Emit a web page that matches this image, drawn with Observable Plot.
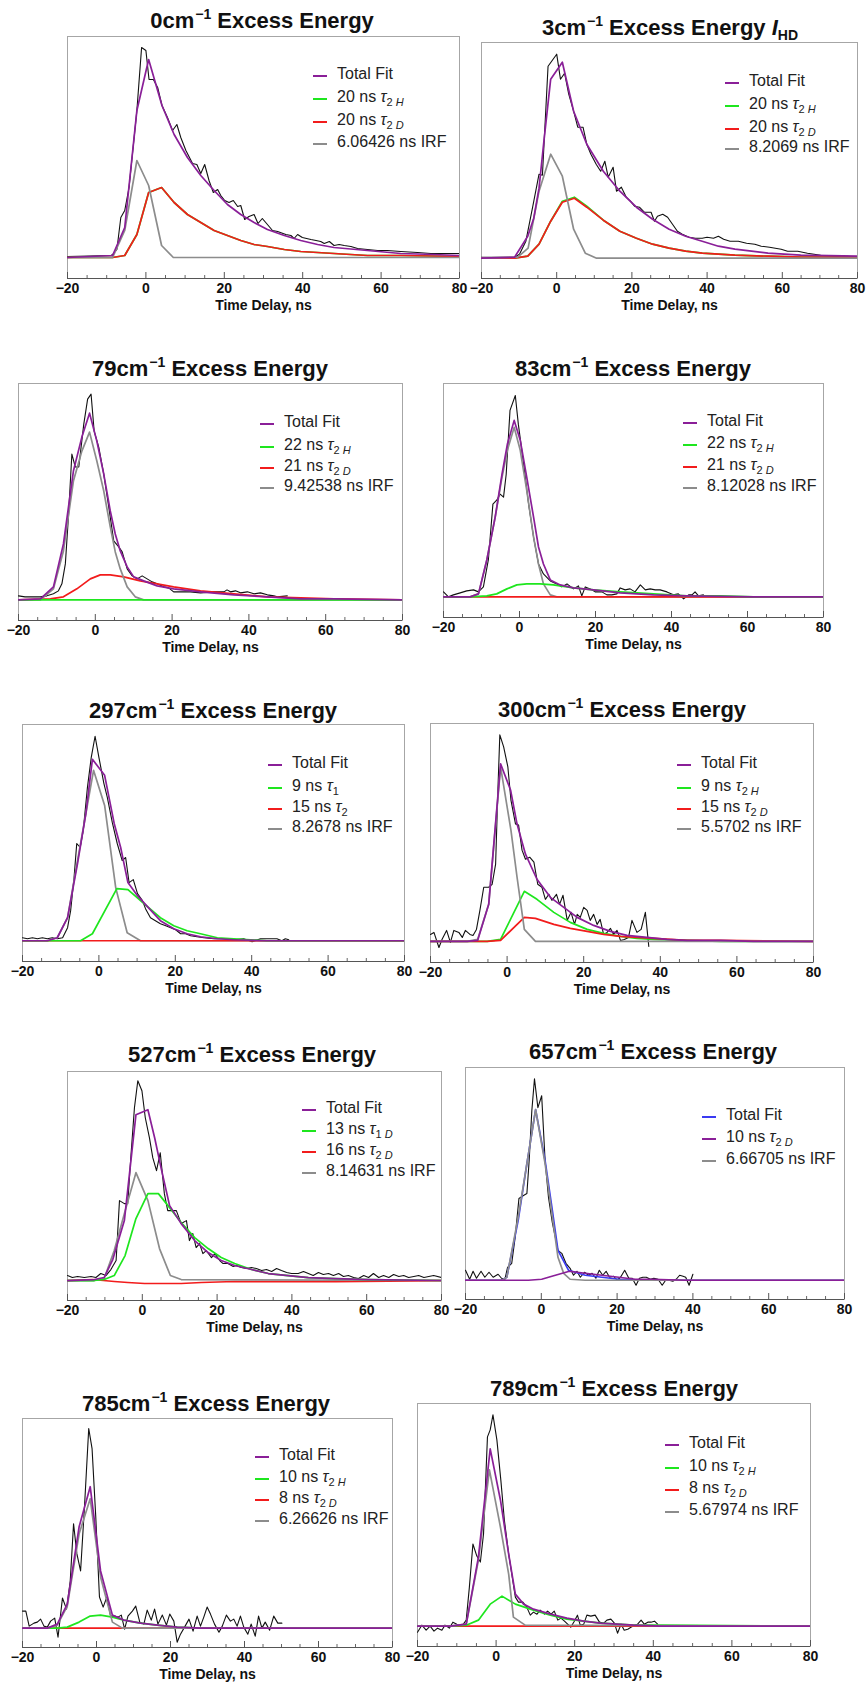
<!DOCTYPE html>
<html><head><meta charset="utf-8">
<script src="https://cdn.jsdelivr.net/npm/d3@7"></script>
<script src="https://cdn.jsdelivr.net/npm/@observablehq/plot@0.6"></script>
<style>
body{margin:0;background:#fff;}
#root{position:relative;width:867px;height:1688px;overflow:hidden;background:#fff;font-family:"Liberation Sans",Arial,sans-serif;}
.title{position:absolute;font-weight:bold;font-size:22px;line-height:22px;white-space:nowrap;transform:translateX(-50%);color:#111;}
.title .sup{font-size:14px;position:relative;top:-9px;margin-left:1px;}
.title .hd{font-size:14px;position:relative;top:5px;}
.lg{position:absolute;display:flex;align-items:center;height:20px;font-size:16px;line-height:20px;white-space:nowrap;color:#222;}
.sw{display:inline-block;width:14px;height:0;border-top:2px solid;margin-right:10px;position:relative;top:2px;}
.lg sub{font-size:11px;vertical-align:-4px;line-height:0;}
svg{position:absolute;}
</style>
</head><body><div id="root"></div>
<script>
// ---------- data (time in ns, intensity in arbitrary units) ----------
const energies = ["0","3","79","83","297","300","527","657","785","789"];
const xTicks = [-20,0,20,40,60,80];
const xMinor = [-15,-10,-5,5,10,15,25,30,35,45,50,55,65,70,75];

const p1Data=[[-20,1],[-8.9,2],[-8.5,3],[-7.4,8],[-6.4,40],[-5.4,47],[-4.3,70],[-2.3,147],[-1.1,210],[0,207],[0.8,178],[1.9,178],[3.0,170],[4.1,152],[5.5,140],[6.8,127],[7.9,133],[8.9,120],[10.2,107],[11.9,94],[13.0,93],[14.0,84],[15.0,93],[16.1,77],[17.2,65],[18.3,68],[19.1,62],[20.1,57],[21.2,55],[22.3,57],[23.4,51],[24.2,52],[25.2,38],[26.3,41],[27.6,43],[28.6,34],[29.7,39],[31.0,33],[32.3,27],[33.6,26],[35.7,23],[37.0,22],[37.8,19],[38.7,23],[39.9,20],[42.1,18],[43.4,17],[44.6,16],[45.5,14],[46.8,16],[48.0,12],[49.3,13],[50.6,12],[52.3,11],[54.0,9],[56.5,8],[59.1,7],[61.6,7],[65.0,6],[69.3,5],[72.7,4],[75.2,4],[80,4]];
const p1Fit=[[-20,0],[-8.5,2],[-5.4,30],[-2.3,147],[0.7,198],[4.1,152],[7.2,123],[10.6,100],[14.0,82],[17.4,67],[20.8,53],[24.2,43],[27.6,35],[31.0,28],[35.3,22],[39.5,17],[43.8,13],[48.0,10],[56.5,7],[65.0,4],[73.5,3],[80,2]];
const p1Green=[[-20,0],[-8.5,0],[-5.4,2],[-2.3,23],[0.7,65],[4.0,70],[7.2,55],[10.6,43],[14.0,35],[17.4,27],[20.8,22],[24.2,17],[27.6,13],[31.0,11],[35.3,8],[39.5,6],[48.0,4],[56.5,2],[65.0,2],[80,1]];
const p1Red=[[-20,0],[-8.5,0],[-5.4,2],[-2.3,23],[0.7,65],[4.0,70],[7.2,55],[10.6,43],[14.0,35],[17.4,27],[20.8,22],[24.2,17],[27.6,13],[31.0,11],[35.3,8],[39.5,6],[48.0,4],[56.5,2],[65.0,2],[80,1]];
const p1Irf=[[-20,0],[-8.5,0],[-5.4,27],[-2.3,97],[0.7,72],[4.0,12],[7.0,0],[80,0]];

const p2Data=[[-20,1],[-15.6,1],[-11.2,1],[-9.9,4],[-8.2,17],[-6.4,51],[-4.7,84],[-3.8,83],[-2.3,192],[0,204],[1.0,179],[2.1,185],[3.2,164],[4.5,147],[5.6,131],[7.0,131],[8.0,114],[9.1,104],[10.5,94],[11.7,87],[12.8,97],[13.7,81],[15.0,91],[15.9,67],[17.2,71],[18.5,61],[19.6,57],[20.7,52],[22.0,51],[23.3,46],[25.1,46],[26.0,37],[26.8,42],[28.2,44],[29.5,41],[30.8,34],[32.1,27],[33.4,24],[35.2,21],[36.9,20],[38.7,20],[40.0,21],[41.7,20],[43.0,22],[44.4,19],[46.1,17],[48.3,17],[50.5,15],[52.7,14],[54.4,12],[56.6,11],[59.7,9],[61.4,7],[64.1,7],[66.7,5],[70.2,3],[73.7,2],[77.2,2],[80,1]];
const p2Fit=[[-20,0],[-11.2,1],[-7.7,22],[-6.1,40],[-4.7,70],[-3.4,117],[-1.6,179],[1.5,196],[4.5,147],[8.0,114],[12.4,87],[16.8,67],[21.2,51],[25.5,39],[29.9,29],[34.3,22],[38.7,17],[43.0,12],[47.4,9],[56.2,5],[64.9,3],[80,2]];
const p2Green=[[-20,0],[-11.2,0],[-7.7,2],[-4.7,14],[-1.6,37],[1.5,57],[4.7,61],[8.0,52],[12.4,38],[16.8,27],[21.2,20],[25.5,14],[29.9,10],[34.3,7],[38.7,5],[47.4,3],[56.2,2],[64.9,1],[80,1]];
const p2Red=[[-20,0],[-11.2,0],[-7.7,2],[-4.7,14],[-1.6,37],[1.5,56],[4.7,60],[8.0,51],[12.4,38],[16.8,27],[21.2,20],[25.5,14],[29.9,10],[34.3,7],[38.7,5],[47.4,3],[56.2,2],[64.9,1],[80,1]];
const p2Irf=[[-20,0],[-10.4,1],[-7.6,10],[-4.7,67],[-1.6,104],[1.5,82],[4.5,29],[7.6,5],[10.6,0],[80,0]];

const p3Data=[[-20,4],[-18.3,3],[-16.1,3],[-14.3,3],[-12.6,4],[-10.9,6],[-9.6,9],[-8.7,16],[-7.8,36],[-7.0,83],[-6.1,146],[-5.2,133],[-4.3,133],[-3.0,176],[-2.0,201],[-1.1,206],[-0.3,169],[0.9,153],[2.2,126],[3.5,93],[4.8,59],[6.1,53],[7.0,48],[8.3,31],[9.6,24],[10.9,21],[12.2,24],[13.5,21],[14.8,18],[16.1,16],[17.8,13],[19.1,12],[20.4,8],[22.2,8],[24.8,8],[27.4,7],[30.9,8],[33.5,8],[34.3,10],[35.2,8],[36.5,9],[37.8,7],[39.6,8],[41.3,6],[43.0,7],[44.8,5],[46.5,4],[47.4,3],[50.0,4]];
const p3Fit=[[-20,0],[-14.3,1],[-10.9,13],[-8.3,56],[-5.7,129],[-3.5,163],[-1.5,187],[0.4,159],[2.2,126],[3.9,89],[5.2,66],[6.5,49],[8.3,33],[10.0,23],[12.6,19],[16.1,14],[20.4,11],[27.4,8],[36.1,5],[44.8,3],[53.5,1],[62.2,1],[80,0]];
const p3Green=[[-20,0],[80,0]];
const p3Red=[[-20,0],[-11.7,1],[-8.3,3],[-4.8,11],[-1.3,21],[1.3,25],[3.9,25],[7.4,23],[11.7,19],[16.1,16],[20.4,13],[27.4,9],[36.1,6],[44.8,3],[53.5,2],[62.2,1],[80,0]];
const p3Irf=[[-20,0],[-14.3,0],[-10.9,11],[-8.3,49],[-5.7,119],[-3.5,149],[-1.5,168],[0.4,139],[2.2,109],[3.9,73],[5.2,48],[6.5,31],[8.3,13],[10.4,3],[12.6,0],[80,0]];

const p4Data=[[-20,5],[-18.7,0],[-17.4,2],[-15.6,4],[-13.9,6],[-12.1,7],[-10.8,5],[-9.5,10],[-8.2,37],[-7.0,93],[-6.0,97],[-5.1,103],[-4.2,100],[-3.5,123],[-2.5,187],[-1.1,202],[-0.3,173],[1.1,133],[2.4,93],[3.7,60],[5.0,33],[6.3,23],[8.1,16],[9.8,13],[11.1,10],[12.5,13],[14.2,8],[15.5,11],[16.4,1],[17.3,10],[18.6,8],[19.9,5],[21.7,5],[23.0,2],[24.3,2],[25.6,3],[26.5,9],[27.8,7],[29.1,8],[30.4,5],[31.8,12],[33.1,7],[34.4,8],[35.7,7],[37.0,7],[38.8,5],[40.5,2],[41.8,3],[43.2,-2],[44.5,2],[45.4,2],[46.2,5],[47.1,1],[48.4,2]];
const p4Fit=[[-20,0],[-13.0,0],[-10.8,3],[-8.6,37],[-6.4,80],[-4.6,123],[-3.2,153],[-1.4,177],[0.2,157],[1.9,120],[3.7,80],[5.0,50],[6.3,33],[8.1,17],[10.7,12],[14.2,9],[19.5,7],[26.5,4],[35.3,2],[44.0,1],[61.6,0],[80,0]];
const p4Green=[[-20,0],[-13.0,0],[-8.6,1],[-6.0,3],[-3.3,8],[-0.7,12],[1.9,13],[5.4,13],[8.9,12],[14.2,9],[19.5,7],[26.5,5],[35.3,3],[44.0,1],[52.8,1],[61.6,0],[80,0]];
const p4Red=[[-20,0],[80,0]];
const p4Irf=[[-20,0],[-13.0,0],[-10.8,3],[-8.6,37],[-6.4,80],[-4.6,120],[-3.2,147],[-1.4,170],[0.2,147],[1.9,107],[3.7,60],[5.0,33],[6.3,13],[8.1,2],[9.8,0],[80,0]];

const p5Data=[[-20,3],[-18.7,2],[-17.4,3],[-16.1,2],[-14.8,3],[-13.5,2],[-12.2,3],[-10.9,2],[-9.5,3],[-8.2,13],[-7.4,30],[-6.5,63],[-5.8,97],[-4.9,93],[-4.1,110],[-3.0,153],[-2.0,183],[-1.0,204],[0,183],[1.3,157],[2.2,143],[3.5,118],[4.8,97],[6.1,80],[7.0,83],[7.9,58],[9.0,61],[10.1,47],[11.4,40],[12.2,32],[13.5,23],[14.8,20],[16.1,17],[17.5,15],[18.8,13],[20.1,11],[21.4,7],[22.7,7],[24.0,5],[25.7,4],[27.5,3],[30.1,2],[32.7,2],[35.3,1],[37.9,2],[40.1,-1],[42.3,2],[44.0,2],[46.6,2],[47.9,0],[48.8,2],[49.7,1]];
const p5Fit=[[-20,0],[-13.5,0],[-10.9,3],[-8.2,23],[-5.6,77],[-3.4,127],[-1.7,181],[1.5,165],[4.0,117],[5.7,93],[7.6,58],[10.1,45],[12.7,34],[16.1,20],[19.6,12],[23.1,7],[26.6,4],[31.0,2],[35.3,1],[44.0,0],[80,0]];
const p5Green=[[-20,0],[-4.8,0],[-1.7,7],[4.7,52],[7.6,51],[11.8,37],[16.1,23],[19.6,15],[23.1,10],[26.6,7],[31.0,3],[35.3,2],[39.7,1],[44.0,0],[80,0]];
const p5Red=[[-20,0],[80,0]];
const p5Irf=[[-20,0],[-13.5,0],[-10.9,3],[-8.2,23],[-5.6,80],[-3.4,127],[-1.4,170],[1.5,135],[4.4,53],[7.4,8],[10.9,0],[80,0]];

const p6Data=[[-20,7],[-19.1,9],[-17.8,-6],[-17.0,2],[-15.8,11],[-14.8,-1],[-13.9,11],[-12.6,9],[-11.7,4],[-10.9,11],[-9.7,7],[-8.9,6],[-8.0,12],[-7.1,31],[-6.1,54],[-4.8,54],[-3.9,57],[-3.0,77],[-2.4,151],[-1.9,206],[-0.9,194],[0.2,174],[1.0,141],[2.2,117],[3.0,116],[3.9,91],[4.8,82],[5.9,84],[7.0,79],[8.0,57],[9.1,54],[10.0,42],[10.9,47],[11.7,41],[12.9,47],[13.7,37],[14.6,46],[15.7,21],[16.7,29],[17.6,17],[18.3,27],[19.1,24],[20.0,34],[20.9,31],[21.7,21],[22.6,27],[23.5,17],[24.3,22],[25.2,7],[26.1,9],[27.0,13],[27.8,7],[28.7,11],[29.6,1],[30.6,2],[31.7,4],[32.6,21],[33.9,9],[35.0,12],[36.1,29],[37.0,-5]];
const p6Fit=[[-20,0],[-10.4,0],[-7.7,1],[-4.8,37],[-1.7,177],[0.9,151],[2.6,117],[4.8,87],[7.8,62],[11.3,44],[14.8,34],[18.3,24],[22.6,16],[27.0,10],[31.3,6],[36.5,4],[41.7,2],[47.0,1],[55.7,1],[64.3,0],[80,0]];
const p6Green=[[-20,0],[-5.2,0],[-1.7,2],[4.5,50],[7.8,42],[12.2,29],[16.5,19],[20.9,12],[25.2,8],[29.6,5],[33.9,3],[38.3,2],[47.0,1],[55.7,0],[80,0]];
const p6Red=[[-20,0],[-5.2,0],[-1.7,1],[4.5,24],[7.4,23],[12.2,17],[16.5,13],[20.9,10],[25.2,7],[29.6,5],[33.9,4],[38.3,3],[47.0,1],[55.7,1],[80,0]];
const p6Irf=[[-20,0],[-10.4,0],[-7.7,2],[-4.8,37],[-1.7,174],[1.0,111],[2.6,64],[4.5,12],[7.4,0],[80,0]];

const p7Data=[[-20,5],[-18.7,3],[-17.3,4],[-15.5,3],[-13.7,4],[-12.4,3],[-11.1,7],[-9.7,5],[-8.4,11],[-7.0,20],[-6.1,80],[-4.8,77],[-3.9,77],[-3.0,127],[-2.1,173],[-1.2,200],[-0.1,190],[0.8,163],[1.9,143],[2.8,123],[3.8,110],[4.8,128],[5.9,87],[6.8,70],[7.9,70],[9.1,70],[10.4,57],[11.8,60],[12.6,40],[13.5,47],[14.4,33],[15.3,37],[16.2,27],[17.1,30],[18.5,23],[19.4,27],[20.7,20],[21.6,17],[22.9,17],[24.3,14],[25.2,15],[26.5,13],[27.9,12],[29.2,13],[30.5,12],[31.9,10],[33.2,11],[34.6,9],[35.9,12],[37.2,10],[38.6,8],[39.9,7],[41.7,7],[43.1,9],[44.4,7],[45.7,5],[47.1,8],[48.4,6],[49.8,7],[51.1,5],[52.5,7],[53.8,4],[55.1,5],[56.5,3],[57.8,2],[59.2,5],[60.5,3],[61.8,7],[63.2,3],[64.5,5],[65.9,3],[67.2,6],[68.6,4],[69.9,5],[71.2,3],[72.6,4],[73.9,5],[75.3,3],[76.6,4],[77.9,5],[80,3]];
const p7Fit=[[-20,0],[-12.8,1],[-10.2,3],[-7.9,21],[-4.8,60],[-1.7,166],[1.5,171],[3.3,143],[5.0,113],[7.3,75],[10.4,57],[14.0,40],[17.6,28],[21.1,20],[24.7,15],[29.2,11],[33.7,7],[39.0,5],[44.4,3],[51.6,2],[60.5,1],[80,0]];
const p7Green=[[-20,0],[-12.8,0],[-10.2,1],[-7.5,5],[-4.6,25],[-1.7,62],[1.5,87],[4.3,87],[7.3,73],[10.4,58],[14.0,43],[17.6,32],[21.1,23],[24.7,17],[29.2,11],[33.7,7],[39.0,5],[44.4,3],[51.6,2],[60.5,1],[80,0]];
const p7Red=[[-20,0],[-13.3,1],[-7.5,-1],[-3.9,-2],[0.6,-3],[5.0,-3],[10.4,-3],[15.8,-2],[24.7,-1],[33.7,-1],[51.6,-1],[80,0]];
const p7Irf=[[-20,0],[-12.8,0],[-10.2,2],[-7.5,30],[-4.8,67],[-1.7,108],[1.5,80],[4.6,32],[7.5,5],[10.4,1],[80,0]];

const p8Data=[[-20,10],[-18.9,1],[-18.0,9],[-17.1,2],[-15.9,9],[-14.9,3],[-13.8,8],[-12.7,3],[-11.4,6],[-10.5,2],[-9.6,1],[-8.9,13],[-7.8,17],[-6.9,43],[-5.9,82],[-4.7,85],[-3.8,87],[-3.2,120],[-2.5,170],[-1.8,202],[-0.9,173],[0.1,185],[1.0,120],[1.9,83],[2.9,58],[4.4,30],[5.4,27],[6.5,17],[7.6,12],[8.5,5],[9.4,9],[10.3,3],[11.4,8],[12.5,5],[13.4,7],[14.4,2],[15.3,10],[16.2,5],[17.1,9],[18.0,3],[19.1,4],[20.0,0],[20.9,3],[22.0,10],[23.1,2],[24.0,2],[25.0,-5],[25.9,2],[26.8,3],[27.7,3],[28.8,1],[29.7,2],[30.8,1],[31.9,-5],[32.8,0],[33.7,0],[34.7,-1],[35.6,1],[36.5,5],[37.4,4],[38.1,3],[39.0,-5],[40.0,6]];
const p8Fit=[[-20,0],[-10.5,0],[-9.1,3],[-6.1,60],[-3.8,117],[-1.5,171],[1.0,120],[2.8,73],[4.4,30],[7.2,10],[11.6,5],[16.0,3],[20.4,1],[29.2,0],[80,0]];
const p8Comp=[[-20,0],[-3.4,0],[0.1,1],[2.8,4],[7.4,9],[11.6,7],[16.0,5],[20.4,3],[24.8,1],[29.2,1],[38.1,0],[80,0]];
const p8Irf=[[-20,0],[-10.5,0],[-9.1,3],[-6.1,63],[-3.8,117],[-1.5,171],[1.0,117],[2.8,67],[4.4,23],[5.9,7],[7.6,1],[11.6,0],[80,0]];

const p9Data=[[-20,17],[-19.1,17],[-18.2,2],[-16.9,5],[-16.0,6],[-15.1,9],[-14.2,2],[-13.3,1],[-12.4,7],[-11.3,10],[-10.4,-9],[-9.2,30],[-8.1,19],[-7.1,47],[-6.2,104],[-5.3,74],[-4.3,57],[-3.2,124],[-2.1,199],[-1.2,179],[-0.2,111],[0.8,31],[1.8,21],[2.8,31],[3.8,12],[4.9,12],[5.8,11],[6.7,13],[7.6,-1],[8.5,12],[9.7,17],[10.6,22],[11.7,6],[12.8,4],[13.7,18],[14.8,8],[15.7,19],[16.6,4],[17.8,13],[18.9,3],[19.8,14],[20.9,7],[21.8,-14],[22.7,-6],[23.8,1],[25.0,9],[26.1,-3],[27.2,12],[28.1,2],[29.0,11],[29.9,21],[30.8,14],[31.9,4],[33.1,-4],[34.0,2],[35.1,13],[36.2,7],[37.1,9],[38.0,2],[38.9,12],[39.8,1],[40.9,-6],[41.8,4],[42.9,-8],[43.8,12],[44.7,0],[45.6,6],[46.8,-2],[47.9,12],[49.0,5],[50.1,5]];
const p9Fit=[[-20,0],[-13.3,0],[-10.6,4],[-7.9,24],[-4.7,101],[-1.7,141],[1.1,57],[4.3,13],[7.4,8],[11.9,5],[16.4,3],[21.8,1],[28.1,0],[80,0]];
const p9Green=[[-20,0],[-10.6,0],[-7.9,1],[-4.7,6],[-1.7,12],[1.1,13],[4.3,11],[7.4,8],[11.9,5],[16.4,3],[21.8,1],[28.1,0],[80,0]];
const p9Red=[[-20,0],[80,0]];
const p9Irf=[[-20,0],[-13.3,0],[-10.6,3],[-7.9,22],[-4.7,94],[-1.7,129],[1.1,51],[4.3,6],[7.0,0],[80,0]];

const p10Data=[[-20,-6],[-18.9,1],[-17.8,-4],[-16.8,0],[-15.8,-5],[-14.9,-2],[-13.8,-4],[-13.0,1],[-11.9,-2],[-11.0,4],[-10.0,2],[-8.7,0],[-7.6,6],[-6.8,39],[-5.9,82],[-4.9,70],[-4.0,64],[-3.2,92],[-2.2,189],[-1.5,196],[-0.8,211],[0.2,186],[1.2,146],[2.1,106],[3.2,72],[4.0,52],[4.9,29],[5.7,24],[6.8,24],[7.8,19],[8.7,11],[9.5,14],[10.4,12],[11.2,16],[12.3,12],[13.1,15],[14.0,12],[14.8,15],[15.7,6],[16.5,8],[17.4,5],[18.2,2],[19.0,-1],[19.9,5],[20.7,11],[21.4,1],[22.3,2],[23.1,11],[24.1,10],[25.2,11],[26.3,4],[27.4,3],[28.2,6],[29.2,7],[30.1,3],[30.9,-7],[31.8,2],[32.6,-4],[33.5,-3],[34.3,-1],[35.2,1],[36.0,2],[36.9,6],[37.7,2],[38.6,4],[39.4,4],[40.3,5],[41.1,2]];
const p10Fit=[[-20,0],[-11.7,0],[-7.6,2],[-4.5,69],[-1.5,177],[1.1,126],[3.2,72],[4.9,32],[7.0,22],[9.5,17],[13.8,12],[18.0,8],[22.3,5],[26.5,3],[30.8,2],[35.0,1],[41.8,0],[80,0]];
const p10Green=[[-20,0],[-11.7,0],[-7.6,1],[-4.5,6],[-1.5,22],[1.5,30],[4.9,22],[9.5,16],[13.8,11],[18.0,7],[22.3,5],[26.5,3],[30.8,2],[35.0,1],[41.8,1],[80,0]];
const p10Red=[[-20,0],[80,0]];
const p10Irf=[[-20,0],[-11.7,0],[-7.6,2],[-4.5,66],[-1.7,156],[1.1,99],[3.2,52],[4.4,9],[7.4,1],[80,0]];

// legend labels: [text] or [prefix, tau subscript]
const legendLabels = [
  [["Total Fit"],["20 ns","2 H"],["20 ns","2 D"],["6.06426 ns IRF"]],
  [["Total Fit"],["20 ns","2 H"],["20 ns","2 D"],["8.2069 ns IRF"]],
  [["Total Fit"],["22 ns","2 H"],["21 ns","2 D"],["9.42538 ns IRF"]],
  [["Total Fit"],["22 ns","2 H"],["21 ns","2 D"],["8.12028 ns IRF"]],
  [["Total Fit"],["9 ns","1"],["15 ns","2"],["8.2678 ns IRF"]],
  [["Total Fit"],["9 ns","2 H"],["15 ns","2 D"],["5.5702 ns IRF"]],
  [["Total Fit"],["13 ns","1 D"],["16 ns","2 D"],["8.14631 ns IRF"]],
  [["Total Fit"],["10 ns","2 D"],["6.66705 ns IRF"]],
  [["Total Fit"],["10 ns","2 H"],["8 ns","2 D"],["6.26626 ns IRF"]],
  [["Total Fit"],["10 ns","2 H"],["8 ns","2 D"],["5.67974 ns IRF"]]
];

// ---------- styling / layout ----------
const C = {data:"#111111", purple:"#8a1f98", green:"#1ee61e", red:"#f21c1c", gray:"#8c8c8c", blue:"#3a3af2"};
const std = ["purple","green","red","gray"];
const panels = [
  {series:[[p1Data,"data"],[p1Green,"green"],[p1Red,"red"],[p1Irf,"gray"],[p1Fit,"purple"]], leg:std},
  {series:[[p2Data,"data"],[p2Green,"green"],[p2Red,"red"],[p2Irf,"gray"],[p2Fit,"purple"]], leg:std, hd:true},
  {series:[[p3Data,"data"],[p3Red,"red"],[p3Irf,"gray"],[p3Green,"green"],[p3Fit,"purple"]], leg:std},
  {series:[[p4Data,"data"],[p4Irf,"gray"],[p4Red,"red"],[p4Green,"green"],[p4Fit,"purple"]], leg:std},
  {series:[[p5Data,"data"],[p5Irf,"gray"],[p5Red,"red"],[p5Green,"green"],[p5Fit,"purple"]], leg:std},
  {series:[[p6Data,"data"],[p6Green,"green"],[p6Red,"red"],[p6Irf,"gray"],[p6Fit,"purple"]], leg:std},
  {series:[[p7Data,"data"],[p7Red,"red"],[p7Irf,"gray"],[p7Green,"green"],[p7Fit,"purple"]], leg:std},
  {series:[[p8Data,"data"],[p8Fit,"blue"],[p8Irf,"gray"],[p8Comp,"purple"]], leg:["blue","purple","gray"]},
  {series:[[p9Data,"data"],[p9Red,"red"],[p9Green,"green"],[p9Irf,"gray"],[p9Fit,"purple"]], leg:std},
  {series:[[p10Data,"data"],[p10Red,"red"],[p10Green,"green"],[p10Irf,"gray"],[p10Fit,"purple"]], leg:std}
];
// frame L,R,T,B ; y domain ; title centre x & baseline ; legend x & row centres
const layout = [
  {L:67,R:459,T:36,B:278, yd:[-21,221], tx:262,ty:29, lx:313, rows:[74,97,120,142]},
  {L:481,R:857,T:42,B:278, yd:[-20.3,215.7], tx:670,ty:36, lx:725, rows:[81,104,127,147]},
  {L:18,R:402,T:383,B:620, yd:[-20.7,216.7], tx:210,ty:377, lx:260, rows:[422,445,466,486]},
  {L:443,R:823,T:383,B:617, yd:[-20.7,214], tx:633,ty:377, lx:683, rows:[421,443,465,486]},
  {L:22,R:404,T:724,B:961, yd:[-20.7,215.7], tx:213,ty:719, lx:268, rows:[763,786,807,827]},
  {L:430,R:813,T:723,B:962, yd:[-21,217.3], tx:622,ty:718, lx:677, rows:[763,786,807,827]},
  {L:67,R:441,T:1071,B:1300, yd:[-20,209.3], tx:252,ty:1063, lx:302, rows:[1108,1129,1150,1171]},
  {L:465,R:844,T:1067,B:1299, yd:[-19.3,213.3], tx:653,ty:1060, lx:702, rows:[1115,1137,1159]},
  {L:22,R:392,T:1418,B:1647, yd:[-19.3,209], tx:206,ty:1412, lx:255, rows:[1455,1477,1498,1519]},
  {L:417,R:810,T:1403,B:1646, yd:[-20.3,222.3], tx:614,ty:1397, lx:665, rows:[1443,1466,1488,1510]}
];

const root = document.getElementById("root");
const FONT = '"Liberation Sans", Arial, Helvetica, sans-serif';

function subHtml(s){
  return s.split(" ").map(t => /\d/.test(t) ? t : `<i>${t}</i>`).join(" ");
}

panels.forEach((p, i) => {
  const g = layout[i];
  const W = g.R - g.L, H = g.B - g.T;
  const mL = 20, mR = 20, mT = 5, mB = 45;
  const marks = [Plot.frame({stroke:"#a6a6a6"})];
  p.series.forEach(([arr, col]) => {
    marks.push(Plot.line(arr, {x:d=>d[0], y:d=>d[1], stroke:C[col],
      strokeWidth: col === "data" ? 1.1 : 1.7, clip:true}));
  });
  marks.push(Plot.tickX(xTicks, {x:d=>d, insetTop:H-6, stroke:"#555"}));
  marks.push(Plot.tickX(xMinor, {x:d=>d, insetTop:H-3, stroke:"#666"}));
  marks.push(Plot.ruleY([g.yd[0]], {stroke:"#555"}));
  marks.push(Plot.text(["Time Delay, ns"], {text:d=>d, frameAnchor:"bottom", dy:31,
    fontSize:14, fontWeight:"bold", fill:"#111"}));
  const svg = Plot.plot({
    width: W + mL + mR, height: H + mT + mB,
    marginLeft: mL, marginRight: mR, marginTop: mT, marginBottom: mB,
    x: {domain:[-20,80], ticks:xTicks, tickSize:0, tickPadding:5, label:null},
    y: {domain:g.yd, axis:null},
    style: {fontFamily:FONT, fontSize:"14px", fontWeight:"bold", background:"transparent", color:"#111", overflow:"visible"},
    marks
  });
  svg.style.left = (g.L - mL) + "px";
  svg.style.top = (g.T - mT) + "px";
  svg.style.maxWidth = "none";
  root.appendChild(svg);

  // title
  const t = document.createElement("div");
  t.className = "title";
  t.style.left = g.tx + "px";
  t.style.top = (g.ty - 18.6) + "px";
  t.innerHTML = `${energies[i]}cm<span class="sup">\u22121</span> Excess Energy` +
    (p.hd ? ` <i>I</i><span class="hd">HD</span>` : "");
  root.appendChild(t);

  // legend
  legendLabels[i].forEach((lab, k) => {
    const d = document.createElement("div");
    d.className = "lg";
    d.style.left = g.lx + "px";
    d.style.top = (g.rows[k] - 10) + "px";
    const txt = lab.length > 1 ? `${lab[0]} <i>\u03c4</i><sub>${subHtml(lab[1])}</sub>` : lab[0];
    d.innerHTML = `<span class="sw" style="border-color:${C[p.leg[k]]}"></span><span>${txt}</span>`;
    root.appendChild(d);
  });
});
</script>
</body></html>
